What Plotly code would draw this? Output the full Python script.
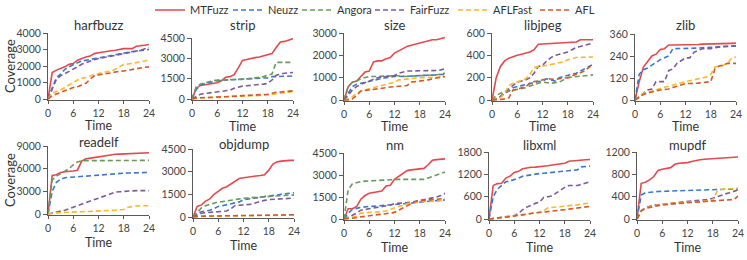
import plotly.graph_objects as go

HOURS = list(range(25))
FUZZERS = ["MTFuzz", "Neuzz", "Angora", "FairFuzz", "AFLFast", "AFL"]
BENCHMARKS = ["harfbuzz", "strip", "size", "libjpeg", "zlib",
              "readelf", "objdump", "nm", "libxml", "mupdf"]
X_TICKS = [0, 6, 12, 18, 24]

harfbuzz = {
    "MTFuzz": [0, 1600, 1750, 1850, 1950, 2100, 2150, 2350, 2450, 2550, 2600, 2750, 2800, 2850, 2900, 2920, 2950, 3000, 3050, 3050, 3050, 3200, 3250, 3260, 3300],
    "Neuzz": [0, 700, 1300, 1500, 1800, 1950, 2100, 2200, 2300, 2350, 2400, 2450, 2500, 2550, 2600, 2650, 2700, 2750, 2800, 2830, 2870, 2900, 2930, 2970, 3000],
    "Angora": None,
    "FairFuzz": [0, 600, 1200, 1400, 1550, 1700, 1850, 1950, 2100, 2200, 2300, 2380, 2450, 2500, 2550, 2600, 2650, 2700, 2750, 2800, 2850, 2900, 2950, 3050, 3100],
    "AFLFast": [0, 350, 450, 550, 700, 850, 1050, 1150, 1250, 1300, 1400, 1480, 1550, 1600, 1650, 1700, 1800, 1950, 2100, 2120, 2150, 2200, 2250, 2300, 2350],
    "AFL": [0, 200, 300, 400, 500, 600, 700, 750, 850, 950, 1200, 1400, 1450, 1500, 1550, 1600, 1650, 1680, 1700, 1750, 1800, 1850, 1900, 1920, 1950],
}
strip = {
    "MTFuzz": [0, 800, 1000, 1050, 1080, 1100, 1200, 1350, 1600, 1650, 1800, 2300, 2850, 2920, 3000, 3050, 3100, 3200, 3300, 3350, 3800, 4200, 4250, 4350, 4450],
    "Neuzz": [0, 700, 1000, 1150, 1200, 1300, 1350, 1380, 1400, 1400, 1420, 1440, 1450, 1480, 1500, 1550, 1550, 1550, 1550, 1650, 1650, 1650, 1680, 1700, 1700],
    "Angora": [0, 900, 1100, 1200, 1300, 1350, 1400, 1420, 1440, 1450, 1450, 1450, 1450, 1480, 1500, 1550, 1600, 1650, 1750, 1850, 2700, 2700, 2700, 2700, 2700],
    "FairFuzz": [0, 200, 350, 400, 450, 500, 550, 580, 600, 650, 800, 900, 950, 980, 1000, 1050, 1080, 1100, 1150, 1400, 1750, 1850, 1900, 1930, 1950],
    "AFLFast": [0, 50, 70, 90, 100, 110, 120, 130, 150, 160, 170, 180, 200, 210, 220, 240, 250, 270, 300, 350, 400, 450, 500, 530, 550],
    "AFL": [0, 80, 90, 100, 120, 140, 150, 160, 180, 190, 200, 220, 250, 260, 270, 280, 300, 320, 350, 420, 500, 520, 550, 580, 600],
}
size = {
    "MTFuzz": [0, 600, 800, 850, 1050, 1250, 1300, 1700, 1750, 1750, 1850, 1900, 2100, 2200, 2300, 2400, 2450, 2500, 2550, 2600, 2650, 2700, 2700, 2750, 2800],
    "Neuzz": [0, 300, 600, 700, 750, 800, 850, 900, 950, 970, 1000, 1030, 1050, 1050, 1050, 1050, 1070, 1080, 1100, 1100, 1100, 1100, 1120, 1140, 1150],
    "Angora": [0, 600, 800, 850, 950, 1000, 1050, 1050, 1050, 1050, 1050, 1080, 1100, 1080, 1060, 1050, 1070, 1080, 1100, 1100, 1100, 1100, 1130, 1160, 1200],
    "FairFuzz": [0, 200, 450, 600, 700, 780, 850, 920, 1000, 1030, 1050, 1080, 1100, 1200, 1250, 1300, 1300, 1300, 1300, 1300, 1300, 1300, 1320, 1350, 1400],
    "AFLFast": [0, 50, 150, 300, 400, 450, 500, 550, 600, 650, 700, 750, 800, 900, 920, 950, 970, 1000, 1000, 1000, 1000, 1000, 1020, 1040, 1050],
    "AFL": [0, 0, 50, 200, 400, 420, 450, 480, 500, 520, 550, 580, 600, 620, 640, 650, 800, 820, 850, 880, 900, 950, 980, 1020, 1050],
}
libjpeg = {
    "MTFuzz": [0, 200, 300, 350, 375, 390, 400, 410, 420, 430, 450, 500, 502, 504, 505, 506, 507, 508, 510, 515, 520, 540, 540, 540, 540],
    "Neuzz": [0, 10, 30, 60, 80, 110, 120, 130, 140, 150, 160, 165, 170, 190, 180, 170, 200, 210, 220, 230, 240, 260, 280, 300, 320],
    "Angora": [0, 40, 60, 70, 85, 90, 95, 100, 110, 125, 140, 150, 160, 155, 150, 155, 160, 180, 200, 205, 210, 215, 220, 222, 225],
    "FairFuzz": [0, 10, 30, 70, 100, 130, 160, 170, 180, 200, 240, 300, 310, 350, 380, 400, 410, 420, 430, 450, 470, 480, 490, 500, 510],
    "AFLFast": [0, 10, 20, 60, 130, 150, 160, 175, 190, 230, 290, 300, 305, 310, 320, 330, 335, 340, 360, 370, 380, 382, 384, 385, 385],
    "AFL": [0, 0, 5, 10, 20, 90, 95, 110, 120, 150, 165, 170, 180, 190, 188, 185, 190, 195, 200, 215, 230, 245, 260, 290, 320],
}
zlib = {
    "MTFuzz": [0, 100, 180, 210, 240, 250, 275, 280, 300, 300, 300, 300, 300, 301, 302, 303, 305, 305, 306, 307, 308, 308, 309, 309, 310],
    "Neuzz": [0, 140, 165, 175, 190, 205, 220, 230, 240, 280, 280, 280, 280, 281, 282, 283, 285, 286, 287, 288, 290, 291, 292, 294, 295],
    "Angora": None,
    "FairFuzz": [0, 20, 40, 55, 60, 100, 100, 100, 160, 170, 200, 215, 230, 230, 260, 270, 280, 280, 280, 285, 290, 292, 293, 294, 295],
    "AFLFast": [0, 20, 35, 42, 50, 58, 65, 70, 75, 82, 90, 95, 100, 105, 110, 115, 120, 125, 140, 180, 185, 190, 200, 230, 235],
    "AFL": [0, 15, 30, 38, 45, 50, 55, 58, 60, 68, 75, 82, 90, 90, 90, 92, 95, 98, 100, 170, 185, 190, 200, 200, 200],
}
readelf = {
    "MTFuzz": [0, 5100, 5200, 5500, 5600, 5700, 5700, 5800, 7000, 7300, 7400, 7500, 7600, 7700, 7800, 7900, 7900, 7920, 7950, 8000, 8050, 8070, 8080, 8090, 8100],
    "Neuzz": [0, 3000, 4200, 4600, 4800, 4850, 4900, 4950, 5000, 5050, 5100, 5150, 5200, 5230, 5260, 5300, 5330, 5360, 5400, 5420, 5440, 5460, 5480, 5490, 5500],
    "Angora": [0, 4500, 5000, 5300, 5600, 6000, 6500, 6900, 7050, 7050, 7050, 7050, 7050, 7060, 7070, 7080, 7090, 7100, 7100, 7100, 7100, 7100, 7100, 7100, 7100],
    "FairFuzz": [0, 100, 200, 350, 500, 700, 900, 1100, 1300, 1500, 1700, 1950, 2200, 2400, 2600, 2800, 2900, 2950, 3000, 3050, 3100, 3100, 3100, 3100, 3100],
    "AFLFast": [0, 100, 150, 180, 200, 220, 250, 270, 280, 300, 310, 330, 350, 380, 420, 450, 500, 550, 600, 900, 1000, 1050, 1080, 1100, 1100],
    "AFL": None,
}
objdump = {
    "MTFuzz": [0, 700, 800, 1050, 1200, 1500, 1700, 1900, 2000, 2200, 2400, 2550, 2600, 2630, 2650, 2700, 2750, 2800, 3100, 3500, 3650, 3700, 3750, 3750, 3750],
    "Neuzz": [0, 250, 350, 400, 450, 550, 700, 750, 800, 850, 900, 1000, 1150, 1180, 1220, 1250, 1300, 1350, 1400, 1430, 1460, 1500, 1530, 1570, 1600],
    "Angora": [0, 300, 600, 750, 850, 950, 1000, 1020, 1050, 1100, 1150, 1200, 1250, 1260, 1280, 1300, 1330, 1370, 1400, 1420, 1430, 1450, 1450, 1450, 1450],
    "FairFuzz": [0, 150, 250, 280, 300, 320, 350, 380, 400, 550, 750, 780, 800, 820, 850, 950, 1050, 1100, 1150, 1170, 1180, 1200, 1220, 1240, 1250],
    "AFLFast": [0, 30, 50, 52, 54, 56, 60, 63, 66, 69, 72, 75, 80, 83, 86, 90, 93, 96, 100, 105, 110, 113, 116, 118, 120],
    "AFL": [0, 50, 55, 58, 62, 66, 70, 73, 76, 80, 83, 86, 90, 95, 100, 105, 110, 115, 120, 128, 135, 142, 150, 150, 150],
}
nm = {
    "MTFuzz": [0, 700, 700, 850, 1350, 1600, 1750, 1800, 1850, 1900, 2250, 2300, 2700, 2900, 3100, 3300, 3350, 3400, 3450, 3450, 3700, 4000, 4050, 4080, 4100],
    "Neuzz": [0, 400, 650, 750, 800, 830, 850, 870, 880, 900, 930, 970, 1000, 1020, 1040, 1050, 1080, 1120, 1150, 1170, 1190, 1200, 1230, 1270, 1300],
    "Angora": [0, 2000, 2400, 2500, 2550, 2580, 2600, 2620, 2650, 2660, 2670, 2690, 2700, 2700, 2700, 2700, 2700, 2700, 2700, 2700, 2800, 2900, 3000, 3100, 3200],
    "FairFuzz": [0, 100, 250, 400, 600, 650, 700, 720, 750, 800, 850, 950, 1050, 1070, 1090, 1100, 1150, 1200, 1250, 1300, 1350, 1400, 1500, 1600, 1750],
    "AFLFast": [0, 50, 100, 200, 400, 450, 450, 450, 450, 500, 550, 650, 800, 900, 1000, 1050, 1100, 1150, 1200, 1200, 1200, 1200, 1220, 1240, 1250],
    "AFL": [0, 0, 50, 100, 150, 200, 250, 270, 300, 320, 350, 400, 450, 600, 750, 900, 1100, 1200, 1250, 1270, 1280, 1300, 1330, 1370, 1400],
}
libxml = {
    "MTFuzz": [0, 900, 950, 960, 1100, 1150, 1250, 1280, 1350, 1380, 1390, 1395, 1400, 1420, 1430, 1450, 1460, 1480, 1500, 1550, 1555, 1560, 1580, 1590, 1600],
    "Neuzz": [0, 600, 800, 900, 1000, 1020, 1050, 1100, 1150, 1170, 1200, 1210, 1220, 1230, 1240, 1250, 1260, 1280, 1300, 1310, 1320, 1320, 1400, 1410, 1420],
    "Angora": None,
    "FairFuzz": [0, 15, 30, 45, 60, 75, 90, 150, 250, 320, 380, 420, 450, 580, 600, 620, 700, 780, 850, 900, 900, 900, 930, 970, 1000],
    "AFLFast": [0, 15, 30, 45, 60, 75, 90, 105, 120, 135, 150, 165, 180, 220, 300, 310, 320, 335, 350, 360, 370, 380, 400, 415, 430],
    "AFL": [0, 10, 20, 35, 50, 65, 80, 90, 100, 125, 150, 165, 180, 190, 200, 210, 225, 240, 250, 265, 280, 300, 310, 325, 340],
}
mupdf = {
    "MTFuzz": [0, 640, 660, 700, 760, 870, 890, 900, 920, 980, 1000, 1005, 1010, 1030, 1050, 1060, 1070, 1075, 1080, 1085, 1090, 1095, 1100, 1105, 1110],
    "Neuzz": [0, 430, 470, 480, 490, 493, 496, 498, 500, 502, 504, 506, 510, 512, 514, 516, 520, 522, 524, 526, 530, 532, 535, 538, 540],
    "Angora": None,
    "FairFuzz": [0, 150, 200, 230, 250, 255, 260, 270, 280, 290, 300, 310, 320, 325, 330, 335, 340, 350, 370, 400, 430, 450, 470, 500, 520],
    "AFLFast": [0, 150, 200, 220, 240, 250, 260, 270, 280, 285, 290, 295, 300, 303, 306, 310, 315, 320, 330, 490, 530, 540, 545, 548, 550],
    "AFL": [0, 140, 190, 210, 230, 240, 250, 260, 270, 275, 280, 285, 290, 293, 296, 300, 305, 310, 320, 325, 330, 340, 345, 350, 410],
}

Y_TICKS = {
    "harfbuzz": [0, 1000, 2000, 3000, 4000],
    "strip": [0, 1500, 3000, 4500],
    "size": [0, 1000, 2000, 3000],
    "libjpeg": [0, 200, 400, 600],
    "zlib": [0, 120, 240, 360],
    "readelf": [0, 3000, 6000, 9000],
    "objdump": [0, 1500, 3000, 4500],
    "nm": [0, 1500, 3000, 4500],
    "libxml": [0, 600, 1200, 1800],
    "mupdf": [0, 400, 800, 1200],
}
DATA = {"harfbuzz": harfbuzz, "strip": strip, "size": size, "libjpeg": libjpeg, "zlib": zlib,
        "readelf": readelf, "objdump": objdump, "nm": nm, "libxml": libxml, "mupdf": mupdf}

# ---- styling ----
COLORS = {"MTFuzz": "#e5484d", "Neuzz": "#3b78cc", "Angora": "#6a9a5a",
          "FairFuzz": "#7d5a9e", "AFLFast": "#fbb829", "AFL": "#d4582a"}
FONT = "Lato"
AX = "#5a5a5a"
W, H = 747, 260
# legend entry left edges (screen px)
LEG_X = {"MTFuzz": 150, "Neuzz": 228, "Angora": 297, "FairFuzz": 370, "AFLFast": 453, "AFL": 535}


def fx(px):
    return px / W


def fy(py):
    return 1 - py / H


# pixel boxes (screen): left, right, top tick px, zero px, title px, "Time" px
BOX = {
    "harfbuzz": (48, 149, 33, 99, 25, 125),
    "strip": (192, 293, 38, 99, 25, 126),
    "size": (344, 445, 33, 100, 25, 126),
    "libjpeg": (492, 593, 33, 100, 25, 126),
    "zlib": (635, 736, 34, 100, 25, 126),
    "readelf": (48, 149, 146, 214, 141.5, 242),
    "objdump": (193, 294, 149, 217, 143.5, 245),
    "nm": (344, 445, 153, 219, 145, 247),
    "libxml": (489, 590, 152, 219, 145, 247),
    "mupdf": (637, 738, 152, 219, 145, 247),
}

fig = go.Figure()
layout = {}
ann = []
shown = set()
for i, b in enumerate(BENCHMARKS, start=1):
    l, r, t, z, ty, tx = BOX[b]
    top = Y_TICKS[b][-1]
    hpx = z - t
    pad = top / hpx * 1.0
    xa = "xaxis" if i == 1 else f"xaxis{i}"
    ya = "yaxis" if i == 1 else f"yaxis{i}"
    xr = "x" if i == 1 else f"x{i}"
    yr = "y" if i == 1 else f"y{i}"
    for k, f in enumerate(FUZZERS):
        vals = DATA[b][f]
        if vals is None:
            continue
        fig.add_trace(go.Scatter(
            x=HOURS, y=vals, mode="lines", xaxis=xr, yaxis=yr,
            name=f, legendgroup=f, showlegend=(f not in shown),
            legend="legend" if k == 0 else f"legend{k + 1}",
            line=dict(color=COLORS[f], width=1.6,
                      dash="solid" if f == "MTFuzz" else "5px,3px"),
            hoverinfo="skip"))
        shown.add(f)
    common = dict(showgrid=False, zeroline=False, showline=True, linecolor=AX, linewidth=1,
                  ticks="outside", ticklen=4, tickwidth=1, tickcolor=AX,
                  tickfont=dict(family=FONT, size=10.5, color="#444"))
    layout[xa] = dict(common, domain=[fx(l), fx(r)], range=[0, 24], tickvals=X_TICKS,
                      anchor=yr, ticklen=3)
    layout[ya] = dict(common, domain=[fy(z + 1), fy(t)], range=[-pad, top],
                      tickvals=Y_TICKS[b], anchor=xr)
    ann.append(dict(text=b, x=fx((l + r) / 2), y=fy(ty), xref="paper", yref="paper",
                    showarrow=False, xanchor="center", yanchor="middle",
                    font=dict(family=FONT, size=13, color="#333")))
    ann.append(dict(text="Time", x=fx((l + r) / 2), y=fy(tx), xref="paper", yref="paper",
                    showarrow=False, xanchor="center", yanchor="middle",
                    font=dict(family=FONT, size=12.5, color="#333")))

for yc in [(33 + 99) / 2, (146 + 214) / 2]:
    ann.append(dict(text="Coverage", x=fx(10), y=fy(yc), xref="paper", yref="paper",
                    showarrow=False, textangle=-90, xanchor="center", yanchor="middle",
                    font=dict(family=FONT, size=13, color="#333")))

for k, f in enumerate(FUZZERS):
    key = "legend" if k == 0 else f"legend{k + 1}"
    layout[key] = dict(orientation="h", x=fx(LEG_X[f]), xanchor="left", y=fy(-4.5),
                       yanchor="top", font=dict(family=FONT, size=11, color="#333"),
                       bgcolor="rgba(0,0,0,0)", itemwidth=30)

fig.update_layout(
    width=W, height=H, margin=dict(l=0, r=0, t=0, b=0, autoexpand=False),
    paper_bgcolor="white", plot_bgcolor="white",
    showlegend=True,
    annotations=ann,
    **layout)

fig.write_html("out.html", config={"displayModeBar": False},
               post_script="document.body.style.margin='0px';")
